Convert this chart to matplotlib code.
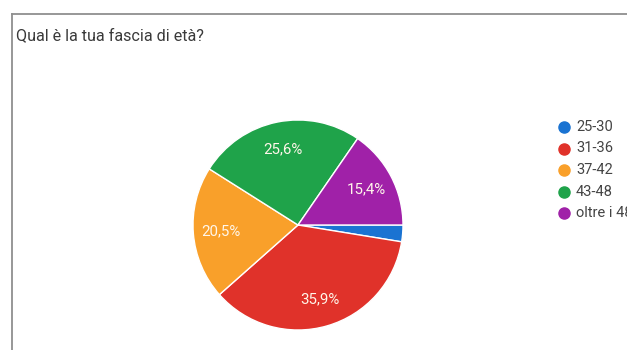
import matplotlib
matplotlib.use("Agg")
import matplotlib.pyplot as plt
from matplotlib.lines import Line2D

plt.rcParams['font.family'] = ['Roboto', 'DejaVu Sans']

# Survey answers: age bands and number of respondents
categories = ["25-30", "31-36", "37-42", "43-48", "oltre i 48"]
counts = [1, 14, 8, 10, 6]
colors = ["#1a73d2", "#e0322a", "#f9a02a", "#1fa34a", "#a021a8"]
title = "Qual è la tua fascia di età?"

W, H = 627, 350
fig = plt.figure(figsize=(W / 100, H / 100), dpi=100)
fig.patch.set_facecolor("white")

def fx(px):
    return px / W

def fy(py):
    return 1 - py / H

# card border (top and left edges)
fig.add_artist(Line2D([fx(12), fx(12)], [fy(14), fy(352)], transform=fig.transFigure,
                      color="#8f8f8f", linewidth=1.3))
fig.add_artist(Line2D([fx(12), fx(629)], [fy(14), fy(14)], transform=fig.transFigure,
                      color="#8f8f8f", linewidth=1.3))

fig.text(fx(16), fy(36), title, fontsize=11.6, color="#3a3a3a", va="center", ha="left")

# pie chart
cx, cy, r = 298, 225, 105
ax = fig.add_axes([fx(cx - r), fy(cy + r), 2 * r / W, 2 * r / H])

def fmt(p):
    if p < 5:
        return ""
    return f"{p:.1f}%".replace(".", ",")

wedges, texts, autotexts = ax.pie(
    counts, colors=colors, startangle=0, counterclock=False, radius=1,
    autopct=fmt, pctdistance=0.74,
    wedgeprops=dict(edgecolor="white", linewidth=1.0),
    textprops=dict(color="#fff6ea", fontsize=10.8),
)
ax.set_xlim(-1.0, 1.0)
ax.set_ylim(-1.0, 1.0)
ax.axis("off")

# legend
lx, ly0, dy = 564, 127, 21.5
for i, (lab, col) in enumerate(zip(categories, colors)):
    y = ly0 + i * dy
    fig.add_artist(Line2D([fx(lx)], [fy(y)], transform=fig.transFigure, marker="o",
                          markersize=8, color=col, linestyle="none"))
    fig.text(fx(576), fy(y), lab, fontsize=10.5, color="#444444", va="center", ha="left")

fig.savefig("out.png", dpi=100)
